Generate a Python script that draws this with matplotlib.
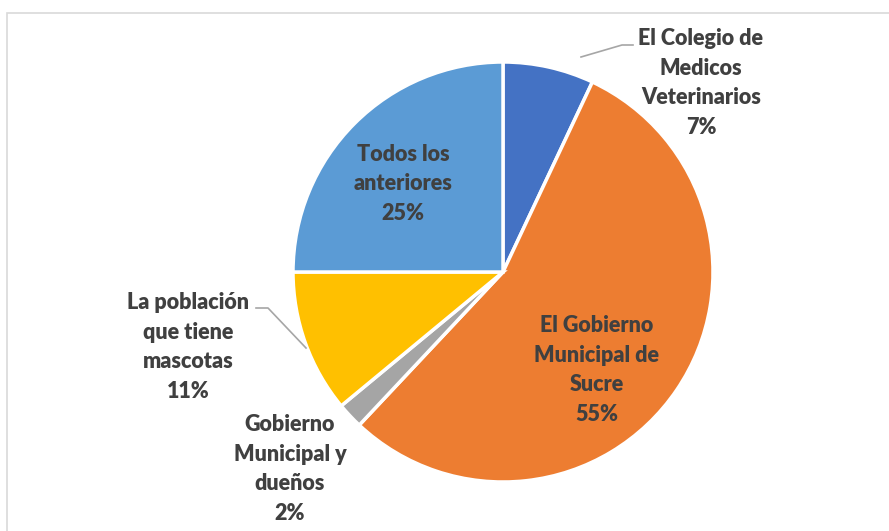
import matplotlib
matplotlib.use("Agg")
import matplotlib.pyplot as plt
from matplotlib.patches import Rectangle

categories = [
    "El Colegio de\nMedicos\nVeterinarios",
    "El Gobierno\nMunicipal de\nSucre",
    "Gobierno\nMunicipal y\ndueños",
    "La población\nque tiene\nmascotas",
    "Todos los\nanteriores",
]
values = [7, 55, 2, 11, 25]
colors = ["#4472C4", "#ED7D31", "#A5A5A5", "#FFC000", "#5B9BD5"]

W, H = 889, 531
fig = plt.figure(figsize=(W / 100, H / 100), dpi=100)
ax = fig.add_axes([0, 0, 1, 1])
ax.set_xlim(0, W)
ax.set_ylim(0, H)
ax.set_aspect("equal")
ax.axis("off")

# chart frame
ax.add_patch(Rectangle((7, -5), W, H - 13 + 5, fill=False, edgecolor="#D9D9D9", linewidth=1.2))

cx, cy, r = 503, H - 272, 210
ax.pie(values, colors=colors, startangle=90, counterclock=False,
       center=(cx, cy), radius=r,
       wedgeprops=dict(edgecolor="white", linewidth=2.5))
ax.set_xlim(0, W)
ax.set_ylim(0, H)

# label positions in pixel coords (x, y from top)
label_pos = [(701, 83), (597, 370), (290, 469), (188, 347), (403, 184)]
text_kw = dict(ha="center", va="center", multialignment="center",
               fontsize=15.5, fontweight="heavy", color="#404040",
               family="Lato", linespacing=1.5)
for cat, v, (px, py) in zip(categories, values, label_pos):
    ax.text(px, H - py, f"{cat}\n{v}%", **text_kw)

# leader lines
ax.plot([581, 622, 633], [H - 57, H - 45, H - 45], color="#A6A6A6", lw=1.2)
ax.plot([256, 268, 306], [H - 308, H - 308, H - 348], color="#A6A6A6", lw=1.2)

fig.savefig("out.png", dpi=100)
plt.close(fig)
